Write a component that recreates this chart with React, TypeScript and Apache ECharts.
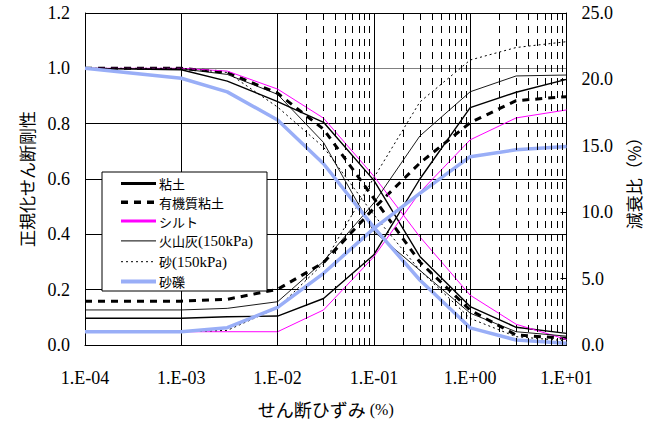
import React, { useEffect, useRef } from "react";
import * as echarts from "echarts";

const strain = [1e-4, 1e-3, 3e-3, 1e-2, 3e-2, 1e-1, 3e-1, 1, 3, 10];
const xTickLabels = ["1.E-04", "1.E-03", "1.E-02", "1.E-01", "1.E+00", "1.E+01"];
const xTickExponents = [-4, -3, -2, -1, 0, 1];

// normalized shear modulus G/G0
const gClay = [1.0, 0.995, 0.954, 0.88, 0.805, 0.595, 0.32, 0.139, 0.064, 0.042];
const gOrganic = [1.0, 1.0, 0.985, 0.91, 0.78, 0.53, 0.3, 0.126, 0.036, 0.024];
const gSilt = [1.0, 1.0, 0.99, 0.925, 0.82, 0.61, 0.391, 0.18, 0.075, 0.02];
const gAsh = [1.0, 0.998, 0.978, 0.906, 0.732, 0.41, 0.27, 0.115, 0.048, 0.032];
const gSand = [1.0, 1.0, 0.985, 0.86, 0.715, 0.47, 0.27, 0.096, 0.03, 0.015];
const gGravel = [1.0, 0.964, 0.915, 0.813, 0.655, 0.425, 0.235, 0.062, 0.018, 0.006];

// damping ratio (%)
const hClay = [2.01, 2.01, 2.13, 2.18, 3.5, 6.8, 12.5, 17.87, 19.03, 20.0];
const hOrganic = [3.3, 3.3, 3.44, 4.19, 6.2, 10.3, 13.7, 16.74, 18.4, 18.7];
const hSilt = [1.0, 1.0, 1.0, 1.0, 2.64, 6.65, 11.5, 15.45, 17.1, 17.7];
const hAsh = [2.64, 2.64, 2.76, 3.26, 6.3, 10.7, 15.74, 19.07, 20.26, 20.33];
const hSand = [1.0, 1.0, 1.1, 2.8, 6.15, 12.6, 18.3, 21.46, 22.4, 22.84];
const hGravel = [1.0, 1.0, 1.3, 2.84, 5.4, 8.78, 11.42, 14.18, 14.7, 14.95];

const names = ["粘土", "有機質粘土", "シルト", "火山灰(150kPa)", "砂(150kPa)", "砂礫"];

const SERIF = "'Liberation Serif', 'Times New Roman', serif";
const CJK = "'Noto Sans CJK JP', sans-serif";

export default function App() {
  const ref = useRef<HTMLDivElement>(null);
  useEffect(() => {
    if (!ref.current) return;
    const chart = echarts.init(ref.current, null, { renderer: "svg" });

    const styles: any[] = [
      { color: "#000", width: 1.4, type: "solid" },
      { color: "#000", width: 3, type: [7, 6] },
      { color: "#ff00ff", width: 1, type: "solid" },
      { color: "#000", width: 0.9, type: "solid" },
      { color: "#000", width: 1, type: [2, 3] },
      { color: "#99aef7", width: 3.5, type: "solid" },
    ];
    const legendStyles: any[] = [
      { color: "#000", width: 3, type: "solid" },
      { color: "#000", width: 3.5, type: [7, 6] },
      { color: "#ff00ff", width: 3, type: "solid" },
      { color: "#000", width: 1, type: "solid" },
      { color: "#000", width: 1, type: [2, 3] },
      { color: "#99aef7", width: 4, type: "solid" },
    ];
    const gSets = [gClay, gOrganic, gSilt, gAsh, gSand, gGravel];
    const hSets = [hClay, hOrganic, hSilt, hAsh, hSand, hGravel];

    const minorX: number[] = [];
    for (let d = -4; d <= 0; d++) {
      for (let m = 2; m <= 9; m++) minorX.push(m * Math.pow(10, d));
    }

    const series: any[] = [
      {
        type: "line",
        name: "minor",
        data: [[1e-4, 0]],
        showSymbol: false,
        symbol: "none",
        lineStyle: { opacity: 0 },
        z: 1,
        silent: true,
        markLine: {
          silent: true,
          symbol: ["none", "none"],
          label: { show: false },
          lineStyle: { color: "#000", width: 1, type: [7, 6] },
          data: minorX.map((x) => ({ xAxis: x })),
          animation: false,
        },
      },
    ];
    names.forEach((n, i) => {
      series.push({
        type: "line",
        name: n,
        yAxisIndex: 0,
        symbol: "none",
        data: strain.map((x, k) => [x, gSets[i][k]]),
        lineStyle: styles[i],
        itemStyle: { color: styles[i].color },
        z: 3,
      });
      series.push({
        type: "line",
        name: n,
        yAxisIndex: 1,
        symbol: "none",
        data: strain.map((x, k) => [x, hSets[i][k]]),
        lineStyle: styles[i],
        itemStyle: { color: styles[i].color },
        z: 3,
      });
    });

    const option: any = {
      animation: false,
      backgroundColor: "#fff",
      grid: {
        left: 85,
        right: 87.5,
        top: 13,
        bottom: 76,
        containLabel: false,
        outerBoundsMode: "none",
      },
      legend: {
        orient: "vertical",
        left: 102,
        top: 172,
        backgroundColor: "#fff",
        borderColor: "#000",
        borderWidth: 1,
        borderRadius: 0,
        padding: [5, 14, 3, 17],
        itemWidth: 35,
        itemHeight: 14,
        itemGap: 5.8,
        data: names.map((n, i) => ({
          name: n,
          lineStyle: legendStyles[i],
          itemStyle: { color: legendStyles[i].color, opacity: 0 },
        })),
        formatter: (name: string) => {
          const p = name.indexOf("(");
          if (p >= 0) return `{a|${name.slice(0, p)}}{b|${name.slice(p)}}`;
          return `{a|${name}}`;
        },
        textStyle: {
          color: "#000",
          padding: [0, 0, 0, -2],
          rich: {
            a: { fontFamily: CJK, fontSize: 13, color: "#000" },
            b: { fontFamily: SERIF, fontSize: 15, color: "#000" },
          },
        },
      },
      xAxis: {
        type: "log",
        logBase: 10,
        min: 1e-4,
        max: 10,
        name: "{a|せん断ひずみ}{b| (%)}",
        nameLocation: "middle",
        nameGap: 55,
        nameMoveOverlap: false,
        nameTextStyle: {
          lineHeight: 18,
          rich: {
            a: { fontFamily: CJK, fontSize: 18, lineHeight: 18, color: "#000" },
            b: { fontFamily: SERIF, fontSize: 16, lineHeight: 18, color: "#000" },
          },
        },
        axisLine: { show: true, lineStyle: { color: "#000", width: 1 } },
        axisTick: { show: false },
        splitLine: { show: true, lineStyle: { color: "#000", width: 1 } },
        axisLabel: {
          margin: 24,
          fontFamily: SERIF,
          fontSize: 18,
          color: "#000",
          formatter: (v: number) => {
            const e = Math.round(Math.log10(v));
            const idx = xTickExponents.indexOf(e);
            return idx >= 0 ? xTickLabels[idx] : "";
          },
        },
      },
      yAxis: [
        {
          type: "value",
          min: 0,
          max: 1.2,
          interval: 0.2,
          position: "left",
          name: "正規化せん断剛性",
          nameLocation: "middle",
          nameGap: 50,
          nameMoveOverlap: false,
          nameRotate: 90,
          nameTextStyle: { fontFamily: CJK, fontSize: 17, color: "#000" },
          axisLine: { show: true, lineStyle: { color: "#000", width: 1 } },
          axisTick: { show: false },
          splitLine: {
            show: true,
            lineStyle: {
              color: ["#000", "#000", "#000", "#000", "#000", "#808080", "#000"],
              width: 1,
            },
          },
          axisLabel: {
            margin: 15,
            fontFamily: SERIF,
            fontSize: 18,
            color: "#000",
            formatter: (v: number) => v.toFixed(1),
          },
        },
        {
          type: "value",
          min: 0,
          max: 25,
          interval: 5,
          position: "right",
          name: "減衰比（%）",
          nameLocation: "middle",
          nameGap: 58,
          nameMoveOverlap: false,
          nameRotate: 90,
          nameTextStyle: { fontFamily: CJK, fontSize: 17, color: "#000" },
          axisLine: { show: true, lineStyle: { color: "#000", width: 1 } },
          axisTick: { show: true, inside: true, length: 6, lineStyle: { color: "#000" } },
          splitLine: { show: false },
          axisLabel: {
            margin: 15,
            fontFamily: SERIF,
            fontSize: 18,
            color: "#000",
            formatter: (v: number) => v.toFixed(1),
          },
        },
      ],
      series,
    };
    chart.setOption(option);
    return () => chart.dispose();
  }, []);
  return (
    <div
      ref={ref}
      style={{ position: "absolute", left: 0, top: 0, width: 654, height: 421, background: "#fff" }}
    />
  );
}
